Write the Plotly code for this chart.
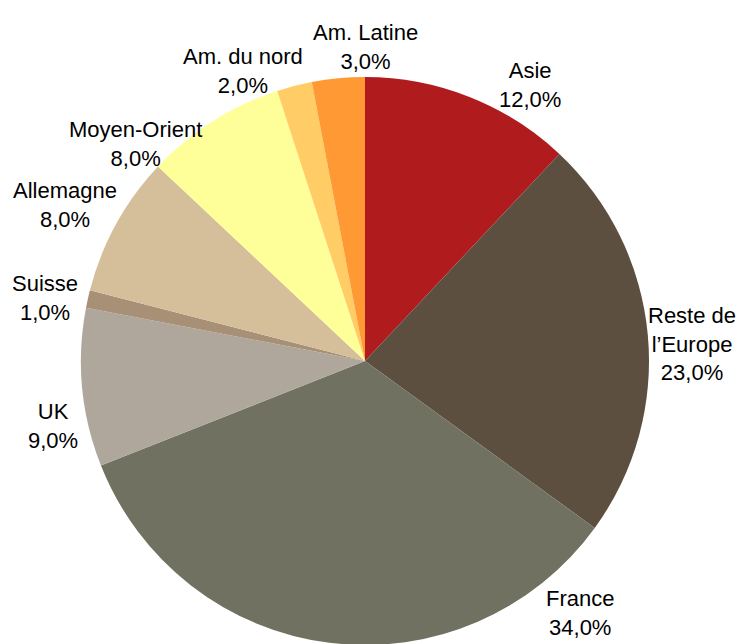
import plotly.graph_objects as go

# share of sales by region, clockwise from 12 o'clock
regions = ["Asie", "Reste de l\u2019Europe", "France", "UK", "Suisse",
           "Allemagne", "Moyen-Orient", "Am. du nord", "Am. Latine"]
shares = [12.0, 23.0, 34.0, 9.0, 1.0, 8.0, 8.0, 2.0, 3.0]
colors = ["#B01C1E", "#5C4F3F", "#707160", "#B0A79C", "#A89076",
          "#D4BF9A", "#FFFF99", "#FFCC66", "#FF9933"]

# label text broken over lines the way the original shows them
label_lines = ["Asie", "Reste de<br>l\u2019Europe", "France", "UK", "Suisse",
               "Allemagne", "Moyen-Orient", "Am. du nord", "Am. Latine"]

W, H = 747, 644
OFF = 8  # page body margin shifts the figure by this much

# label anchor points in window pixels (centre of text block)
label_pos = [(530, 85), (692, 344), (580, 613), (53, 426), (45, 298),
             (65, 205), (135, 144), (243, 71), (365, 47)]

# pie centre and radius in window pixels
cx, cy, rad = 365 - OFF, 361 - OFF, 284

fig = go.Figure(
    go.Pie(
        labels=regions,
        values=shares,
        sort=False,
        direction="clockwise",
        rotation=0,
        marker=dict(colors=colors, line=dict(width=0)),
        textinfo="none",
        hoverinfo="label+percent",
        domain=dict(x=[(cx - rad) / W, (cx + rad) / W],
                    y=[1 - (cy + rad) / H, 1 - (cy - rad) / H]),
        showlegend=False,
    )
)

for name, val, (px, py) in zip(label_lines, shares, label_pos):
    pct = f"{val:.1f}".replace(".", ",")
    fig.add_annotation(
        x=(px - OFF) / W,
        y=1 - (py - OFF) / H,
        xref="paper",
        yref="paper",
        text=f"{name}<br>{pct}%",
        showarrow=False,
        align="center",
        xanchor="center",
        yanchor="middle",
        font=dict(family="Liberation Sans, Arial, sans-serif",
                  size=22, color="black"),
    )

fig.update_layout(
    width=W,
    height=H,
    margin=dict(l=0, r=0, t=0, b=0),
    paper_bgcolor="white",
    plot_bgcolor="white",
)

fig.write_html("out.html")
